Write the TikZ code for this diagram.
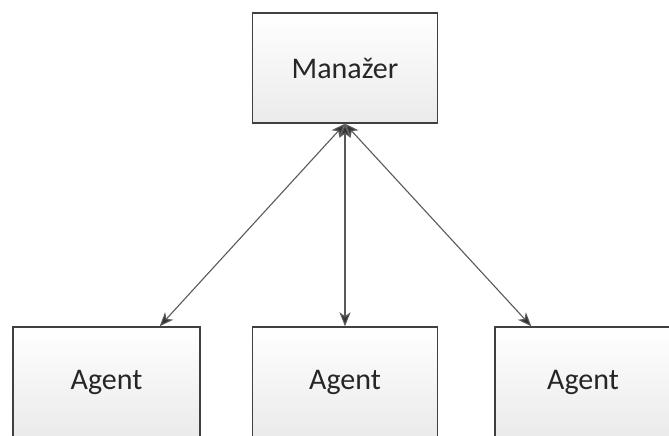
\documentclass[tikz,border=0pt]{standalone}
\usepackage{fontspec}
\setmainfont{Carlito}
\usetikzlibrary{arrows.meta}

\begin{document}
\begin{tikzpicture}[x=1pt,y=-1pt,
box/.style={draw=black!75,line width=1.4pt,top color=white,bottom color=black!8,
  minimum width=185pt,minimum height=110pt,inner sep=0pt,
  font=\fontsize{30}{35}\selectfont,text=black!85},
link/.style={draw=black!65,line width=1.1pt,
  {Stealth[length=14pt,width=11pt,inset=4pt,fill=black!80]}-{Stealth[length=14pt,width=11pt,inset=4pt,fill=black!80]}}]

\useasboundingbox (0,0) rectangle (669,436);
\clip (0,0) rectangle (669,436);

\node[box] (manager) at (345,68) {Manažer};

\node[box,minimum width=187pt] (agentA) at (106.5,382) {Agent};
\node[box] (agentB) at (345,382) {Agent};
\node[box,minimum width=176pt] (agentC) at (583,382) {Agent};

\draw[link] (manager.south) -- ([xshift=-41pt]agentA.north east);
\draw[link] (manager.south) -- (agentB.north);
\draw[link] (manager.south) -- ([xshift=37pt]agentC.north west);

\end{tikzpicture}
\end{document}
